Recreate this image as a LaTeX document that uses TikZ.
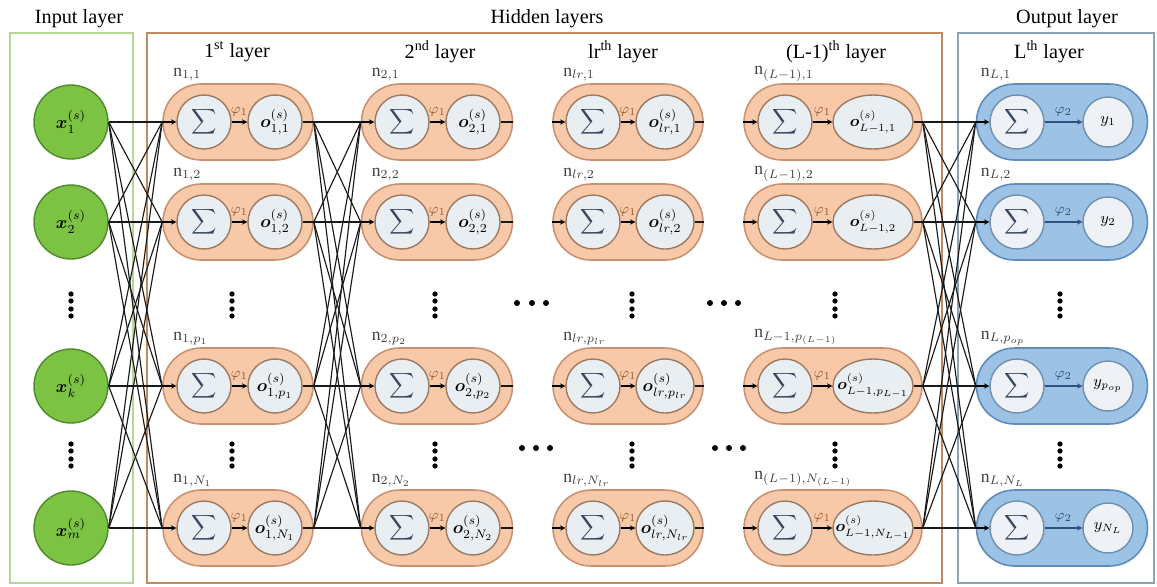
\documentclass[tikz,border=0pt]{standalone}
\usepackage{amsmath}
\usepackage{amssymb}
\usepackage{bm}
\usepackage{xcolor}
\usepackage{fontspec}
\setmainfont{Liberation Serif}
\usepackage{tikz}
\usetikzlibrary{
	arrows.meta,
	calc,
	positioning,
	shapes.geometric,
	shapes.misc
}
\definecolor{inputgreen}{HTML}{7CC243}
\definecolor{inputedge}{HTML}{4E8A2E}
\definecolor{inputbox}{HTML}{B5D89A}
\definecolor{hiddenbox}{HTML}{C08A60}
\definecolor{hiddenfill}{HTML}{F8C9A8}
\definecolor{hiddenedge}{HTML}{C89272}
\definecolor{cellfill}{HTML}{E9EEF3}
\definecolor{celledge}{HTML}{9C7A62}
\definecolor{outbox}{HTML}{8AA2BA}
\definecolor{outfill}{HTML}{9CC3E5}
\definecolor{outedge}{HTML}{5F8BB8}
\definecolor{outcell}{HTML}{EEF2F6}
\definecolor{outcelledge}{HTML}{6F8FAE}
\definecolor{sumgray}{HTML}{3B4660}
\definecolor{phibrown}{HTML}{9A5A30}
\definecolor{outdark}{HTML}{2F4F7F}

\begin{document}
\begin{tikzpicture}[x=0.02cm, y=-0.02cm,
	capsule/.style={rounded rectangle, draw=hiddenedge, fill=hiddenfill, line width=0.9pt, minimum height=1.52cm, inner sep=0pt},
	outcapsule/.style={capsule, draw=outedge, fill=outfill},
	sumcell/.style={circle, draw=celledge, fill=cellfill, line width=0.8pt, minimum size=1.08cm, inner sep=0pt, text=sumgray},
	outcell/.style={ellipse, draw=celledge, fill=cellfill, line width=0.8pt, minimum height=1.08cm, inner sep=0pt},
	yout/.style={circle, draw=outcelledge, fill=outcell, line width=0.8pt, minimum size=1cm, inner sep=0pt, font=\small},
	inp/.style={circle, draw=inputedge, fill=inputgreen, line width=0.8pt, minimum size=1.48cm, inner sep=0pt},
	conn/.style={line width=0.65pt, black!90},
	feed/.style={line width=0.6pt, -{Stealth[length=3pt,width=3pt]}},
	phi/.style={font=\footnotesize, inner sep=1pt, yshift=2pt, text=phibrown},
	nlabel/.style={anchor=south west, inner sep=1pt, text=black!75},
	title/.style={font=\fontsize{11.5}{13}\selectfont},
]
	\useasboundingbox (0,0) rectangle (1157,586);

	% layer boxes
	\draw[inputbox, line width=1.2pt] (10,33) rectangle (133,583);
	\draw[hiddenbox, line width=1.4pt] (147,33) rectangle (942,583);
	\draw[outbox, line width=1.2pt] (958,33) rectangle (1154,583);
	\node[title] (tin) at (79,19) {Input layer};
	\node[title] (thid) at (547,19) {Hidden layers};
	\node[title] (tout) at (1067,19) {Output layer};
	\node[title] (t1) at (237,52) {1\textsuperscript{st} layer};
	\node[title] (t2) at (440,52) {2\textsuperscript{nd} layer};
	\node[title] (t3) at (623,52) {lr\textsuperscript{th} layer};
	\node[title] (t4) at (836,52) {(L-1)\textsuperscript{th} layer};
	\node[title] (t5) at (1049,52) {L\textsuperscript{th} layer};

	% input neurons
	\foreach \i/\y/\s in {1/122/1, 2/222/2, 3/386/k, 4/528/m}
		\node[inp] (in-\i) at (71,\y) {$\boldsymbol{x}^{(s)}_{\s}$};

	% hidden neurons
	\foreach \c/\cx/\w/\sx/\ox/\ow in {1/238/150/204/275/54, 2/437/151/402/473/54, 3/628/150/593/665/58, 4/833/178/785/873/80}
	\foreach \r/\y in {1/122, 2/222, 3/386, 4/528} {
		\node[capsule, minimum width=\w*0.02cm] (h\c-\r) at (\cx,\y) {};
		\node[sumcell] (h\c-\r-s) at (\sx,\y) {$\displaystyle\sum$};
		\node[outcell, minimum width=\ow*0.02cm] (h\c-\r-o) at (\ox,\y) {};
		\draw[feed] (h\c-\r.west) -- (h\c-\r-s.west);
		\draw[feed] (h\c-\r-s.east) -- node[above, phi] {$\varphi_1$} (h\c-\r-o.west);
		\draw[conn] (h\c-\r-o.east) -- (h\c-\r.east);
	}
	\foreach \c/\r/\nl/\ol in {1/1/{1,1}/{1,1}, 1/2/{1,2}/{1,2}, 1/3/{1,p_1}/{1,p_1}, 1/4/{1,N_1}/{1,N_1},
		2/1/{2,1}/{2,1}, 2/2/{2,2}/{2,2}, 2/3/{2,p_2}/{2,p_2}, 2/4/{2,N_2}/{2,N_2},
		3/1/{lr,1}/{lr,1}, 3/2/{lr,2}/{lr,2}, 3/3/{lr,p_{lr}}/{lr,p_{lr}}, 3/4/{lr,N_{lr}}/{lr,N_{lr}},
		4/1/{(L-1),1}/{L-1,1}, 4/2/{(L-1),2}/{L-1,2}, 4/3/{L-1,p_{(L-1)}}/{L-1,p_{L-1}}, 4/4/{(L-1),N_{(L-1)}}/{L-1,N_{L-1}}} {
		\node[inner sep=0pt] (h\c-\r-ol) at (h\c-\r-o) {\ifnum\c=4 \small\fi$\boldsymbol{o}^{(s)}_{\ol}$};
		\node[nlabel] (h\c-\r-nl) at ($(h\c-\r.west |- h\c-\r.north)+(9,0)$) {$\mathrm{n}_{\nl}$};
	}

	% output neurons
	\foreach \r/\y/\nl/\yl in {1/122/{L,1}/1, 2/222/{L,2}/2, 3/386/{L,p_{op}}/{p_{op}}, 4/528/{L,N_L}/{N_L}} {
		\node[outcapsule, minimum width=3.42cm] (out-\r) at (1062,\y) {};
		\node[sumcell, draw=outcelledge, fill=outcell] (out-\r-s) at (1017,\y) {$\displaystyle\sum$};
		\node[yout] (out-\r-y) at (1108,\y) {$y_{\yl}$};
		\draw[feed] (out-\r.west) -- (out-\r-s.west);
		\draw[feed, outdark] (out-\r-s.east) -- node[above, phi, text=outdark] {$\varphi_2$} (out-\r-y.west);
		\node[nlabel] (out-\r-nl) at ($(out-\r.west |- out-\r.north)+(3,0)$) {$\mathrm{n}_{\nl}$};
	}

	% full connections
	\foreach \i in {1,...,4}
	\foreach \r in {1,...,4} {
		\draw[conn] (in-\i.east) -- (h1-\r.west);
		\draw[conn] (h1-\i.east) -- (h2-\r.west);
		\draw[conn] (h4-\i.east) -- (out-\r.west);
	}

	% dots
	\foreach \x in {71,232,435,632,835,1060}
	\foreach \y in {305,455}
	\foreach \d in {-11,-4,4,11}
		\fill (\x,{\y+\d}) circle (1.5pt);
	\foreach \x/\y in {517/303, 532/303, 546/303, 522/448, 536/448, 550/448,
		710/303, 724/303, 738/303, 715/448, 729/448, 743/448}
		\fill (\x,\y) circle (1.7pt);
\end{tikzpicture}
\end{document}
